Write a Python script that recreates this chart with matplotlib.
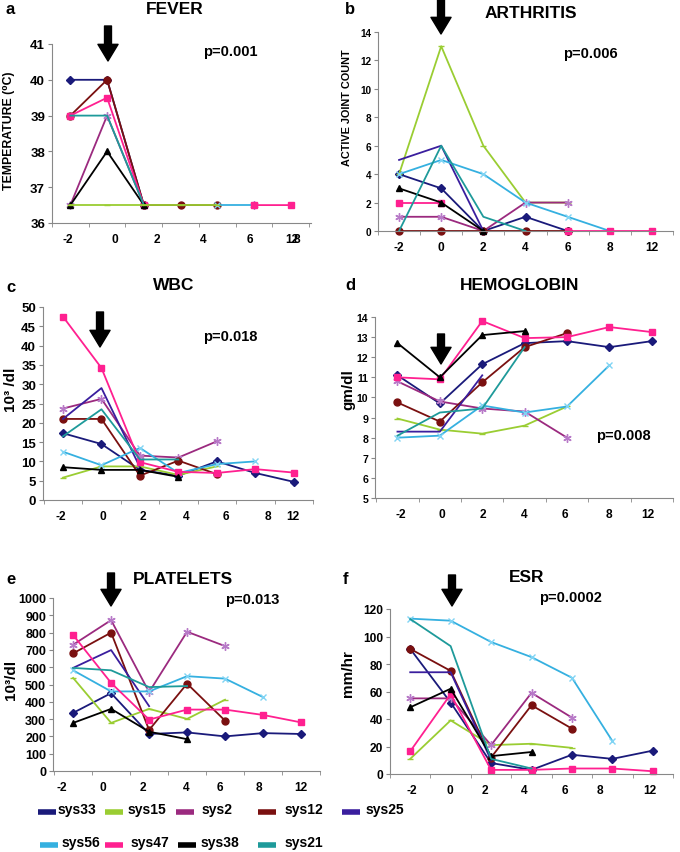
import numpy as np
import matplotlib
matplotlib.use("Agg")
import matplotlib.pyplot as plt
from matplotlib.lines import Line2D

plt.rcParams["font.family"] = ["Liberation Sans", "DejaVu Sans"]
plt.rcParams["font.weight"] = "bold"

nan = np.nan

# visits (category index) and the week labels shown under each panel
visits = [0, 1, 2, 3, 4, 5, 6]
week_labels = ["-2", "0", "2", "4", "6", "8", "12"]
patients = ["sys33", "sys15", "sys2", "sys12", "sys25", "sys56", "sys47", "sys38", "sys21"]

fever = {
    "sys33": [40, 40, 36.5, nan, nan, nan, nan],
    "sys15": [36.5, 36.5, 36.5, 36.5, 36.5, nan, nan],
    "sys2": [36.5, 39, 36.5, nan, nan, 36.5, nan],
    "sys12": [39, 40, 36.5, 36.5, 36.5, nan, nan],
    "sys25": [nan, nan, nan, nan, nan, nan, nan],
    "sys56": [nan, nan, nan, nan, 36.5, 36.5, nan],
    "sys47": [39, 39.5, 36.5, nan, nan, 36.5, 36.5],
    "sys38": [36.5, 38, 36.5, nan, nan, nan, nan],
    "sys21": [39, 39, 36.5, nan, nan, nan, nan],
}
arthritis = {
    "sys33": [4, 3, 0, 1, 0, nan, nan],
    "sys15": [4, 13, 6, 2, 2, nan, nan],
    "sys2": [1, 1, 0, 2, 2, nan, nan],
    "sys12": [0, 0, 0, 0, 0, nan, nan],
    "sys25": [5, 6, 0, nan, nan, nan, nan],
    "sys56": [4, 5, 4, 2, 1, 0, nan],
    "sys47": [2, 2, nan, nan, 0, 0, 0],
    "sys38": [3, 2, 0, nan, nan, nan, nan],
    "sys21": [0, 6, 1, 0, nan, nan, nan],
}
wbc = {
    "sys33": [17.3, 14.5, 7.8, 6.3, 10, 7, 4.7],
    "sys15": [5.8, 8.7, 8.7, 6.5, 8.7, nan, nan],
    "sys2": [23.7, 26.2, 11.5, 11, 15.2, nan, nan],
    "sys12": [21, 21, 6.3, 10.2, 6.7, nan, nan],
    "sys25": [21, 29, 8.5, nan, nan, nan, nan],
    "sys56": [12.5, 9, 13.5, 7, 9.3, 10, nan],
    "sys47": [47.5, 34.2, 9.8, 7.3, 7, 8, 7.1],
    "sys38": [8.5, 7.8, 7.8, 6, nan, nan, nan],
    "sys21": [16.5, 23.5, 10.5, 10.5, nan, nan, nan],
}
hemoglobin = {
    "sys33": [11.1, 9.7, 11.65, 12.7, 12.8, 12.5, 12.8],
    "sys15": [8.95, 8.4, 8.2, 8.6, 9.55, nan, nan],
    "sys2": [10.8, 9.8, 9.45, 9.3, 8.0, nan, nan],
    "sys12": [9.75, 8.8, 10.75, 12.5, 13.2, nan, nan],
    "sys25": [8.3, 8.3, 11.1, nan, nan, nan, nan],
    "sys56": [8.0, 8.1, 9.6, 9.25, 9.55, 11.6, nan],
    "sys47": [11.0, 10.9, 13.8, 12.95, 13.0, 13.5, 13.25],
    "sys38": [12.7, 11.0, 13.1, 13.3, nan, nan, nan],
    "sys21": [8.1, 9.25, 9.45, 12.5, nan, nan, nan],
}
platelets = {
    "sys33": [336, 450, 214, 223, 200, 219, 214],
    "sys15": [538, 278, 359, 301, 412, nan, nan],
    "sys2": [730, 872, 456, 805, 722, nan, nan],
    "sys12": [680, 800, 237, 505, 291, nan, nan],
    "sys25": [596, 699, 375, nan, nan, nan, nan],
    "sys56": [582, 460, 460, 548, 534, 427, nan],
    "sys47": [786, 509, 297, 355, 355, 324, 281],
    "sys38": [278, 359, 227, 184, nan, nan, nan],
    "sys21": [596, 582, 485, 491, nan, nan, nan],
}
esr = {
    "sys33": [91, 52, 8, 3, 14, 11, 17],
    "sys15": [11, 39, 21, 22, 19, nan, nan],
    "sys2": [55, 55, 21, 59, 41, nan, nan],
    "sys12": [91, 75, 12, 50, 33, nan, nan],
    "sys25": [74, 74, 10, nan, nan, nan, nan],
    "sys56": [113, 111.5, 96, 85, 70, 24, nan],
    "sys47": [16.5, 58, 3, 3, 4, 4, 2],
    "sys38": [48.5, 62, 13, 16, nan, nan, nan],
    "sys21": [112.7, 93, 11, 4, nan, nan, nan],
}

colors = {
    "sys33": "#1a1a7a", "sys15": "#9acd32", "sys2": "#9b2a7f",
    "sys12": "#7a1010", "sys25": "#3a1e9e", "sys56": "#35b0e0",
    "sys47": "#ff2090", "sys38": "#000000", "sys21": "#1e9a9a",
}
markers = {
    "sys33": ("D", 4, None), "sys15": ("_", 5, None), "sys2": ((6, 2, 0), 6, "#b87ac8"),
    "sys12": ("o", 5, None), "sys25": ("", 0, None), "sys56": ("x", 5, "#80d4f4"),
    "sys47": ("s", 5, None), "sys38": ("^", 5, None), "sys21": ("", 0, None),
}

W, H = 680, 853


def fx(x):
    return x / W


def fy(y):
    return 1 - y / H


# title, data, box (left, top, right, bottom px), ylim, ystep, xlim, label positions,
# ytick size, ylabel, ylabel pos, ylabel size, title pos, letter, letter pos, p text, p pos, arrow
panels = [
    ("FEVER", fever, (52, 45, 311, 224), (36, 41), 1, (-0.49, 6.55),
     [-0.08, 1.2, 2.36, 3.61, 4.89, 6.17, 6.03], 9.5,
     "TEMPERATURE (\u2070C)", (9, 131), 8.8, (175, 9), "a", (6, 9), "p=0.001", (230, 52),
     (108, 27, 62)),
    ("ARTHRITIS", arthritis, (378, 33, 673, 232), (0, 14), 2, (-0.46, 6.35),
     [0, 1, 2, 3, 4, 5, 6], 7.2,
     "ACTIVE JOINT COUNT", (347, 108), 7.8, (531, 13), "b", (345, 10), "p=0.006", (590, 54),
     (441, 0, 35)),
    ("WBC", wbc, (43, 308, 313, 501), (0, 50), 5, (-0.52, 6.5),
     [-0.05, 1.04, 2.08, 3.2, 4.23, 5.32, 5.97], 9.5,
     "10\u00b3 /dl", (11, 390), 11, (174, 286), "c", (6, 288), "p=0.018", (230, 337),
     (100, 313, 348)),
    ("HEMOGLOBIN", hemoglobin, (375, 318, 673, 499), (5, 14), 1, (-0.53, 6.4),
     [0.07, 1.05, 2.02, 2.98, 3.95, 4.98, 5.91], 7.6,
     "gm/dl", (348, 390), 11, (520, 286), "d", (345, 286), "p=0.008", (623, 436),
     (441, 335, 365)),
    ("PLATELETS", platelets, (53, 599, 320, 772), (0, 1000), 100, (-0.53, 6.5),
     [-0.29, 0.79, 1.85, 2.98, 3.86, 4.9, 5.99], 9,
     "10\u00b3/dl", (11, 680), 11, (183, 580), "e", (6, 580), "p=0.013", (252, 600),
     (111, 574, 607)),
    ("ESR", esr, (390, 610, 673, 775), (0, 120), 20, (-0.49, 6.36),
     [0.05, 0.97, 1.86, 2.81, 3.82, 4.7, 5.93], 8.6,
     "mm/hr", (348, 674), 11, (527, 578), "f", (343, 580), "p=0.0002", (571, 598),
     (452, 576, 607)),
]

fig = plt.figure(figsize=(6.8, 8.53), dpi=100)

for (title, data, box, ylim, ystep, xlim, xpos, ysize, ylabel, ylpos, ylsize,
     tpos, letter, lpos, ptext, ppos, arrow) in panels:
    l, t, r, b = box
    ax = fig.add_axes([fx(l), fy(b), (r - l) / W, (b - t) / H])
    for name in patients:
        m, ms, mec = markers[name]
        z = 2.6 if (title == "FEVER" and name == "sys15") else 2
        ax.plot(visits, data[name], color=colors[name], lw=1.3, marker=m, ms=ms,
                mec=mec if mec else colors[name], mew=1.0, zorder=z, clip_on=False)
    ax.set_xlim(*xlim)
    ax.set_ylim(*ylim)
    ax.set_yticks(np.arange(ylim[0], ylim[1] + ystep / 2, ystep))
    ax.set_xticks(xpos)
    ax.set_xticklabels(week_labels, fontsize=8.6, fontweight="bold")
    ax.set_xticks([v - 0.5 for v in visits] + [6.5], minor=True)
    for lab in ax.get_yticklabels():
        lab.set_fontsize(ysize)
        lab.set_fontweight("bold")
    ax.tick_params(axis="x", which="major", length=0, pad=7)
    ax.tick_params(axis="x", which="minor", length=3, color="#888888", direction="out")
    ax.tick_params(axis="y", length=3, color="#888888", pad=2)
    for s in ["top", "right"]:
        ax.spines[s].set_visible(False)
    for s in ["left", "bottom"]:
        ax.spines[s].set_color("#888888")
    ax.patch.set_alpha(0)

    fig.text(fx(tpos[0]), fy(tpos[1]), title, ha="center", va="center",
             fontsize=12.5, fontweight="bold")
    fig.text(fx(lpos[0]), fy(lpos[1]), letter, ha="left", va="center",
             fontsize=12, fontweight="bold")
    fig.text(fx(ppos[0]), fy(ppos[1]), ptext, ha="center", va="center",
             fontsize=10.5, fontweight="bold")
    fig.text(fx(ylpos[0]), fy(ylpos[1]), ylabel, ha="center", va="center",
             rotation=90, fontsize=ylsize, fontweight="bold")
    ax.annotate("", xy=(arrow[0], H - arrow[2]), xytext=(arrow[0], H - arrow[1]),
                xycoords="figure pixels", textcoords="figure pixels",
                arrowprops=dict(width=5, headwidth=14.5, headlength=12, color="black",
                                shrink=0),
                annotation_clip=False)

# legend drawn by hand, two rows like the original
legend_pos = {
    "sys33": (38, 813), "sys15": (105, 813), "sys2": (176, 813), "sys12": (258, 813),
    "sys25": (342, 813), "sys56": (40, 846), "sys47": (105, 846), "sys38": (178, 846),
    "sys21": (258, 846),
}
text_gap = {"sys33": 20, "sys15": 23, "sys2": 26, "sys12": 27, "sys25": 24,
            "sys56": 22, "sys47": 26, "sys38": 23, "sys21": 27}
for name in patients:
    x, y = legend_pos[name]
    fig.add_artist(Line2D([fx(x), fx(x + 18)], [fy(y), fy(y)], color=colors[name],
                          lw=4, solid_capstyle="butt"))
    fig.text(fx(x + text_gap[name]), fy(y - 3), name, ha="left", va="center",
             fontsize=10, fontweight="bold")

fig.savefig("out.png", dpi=100)
